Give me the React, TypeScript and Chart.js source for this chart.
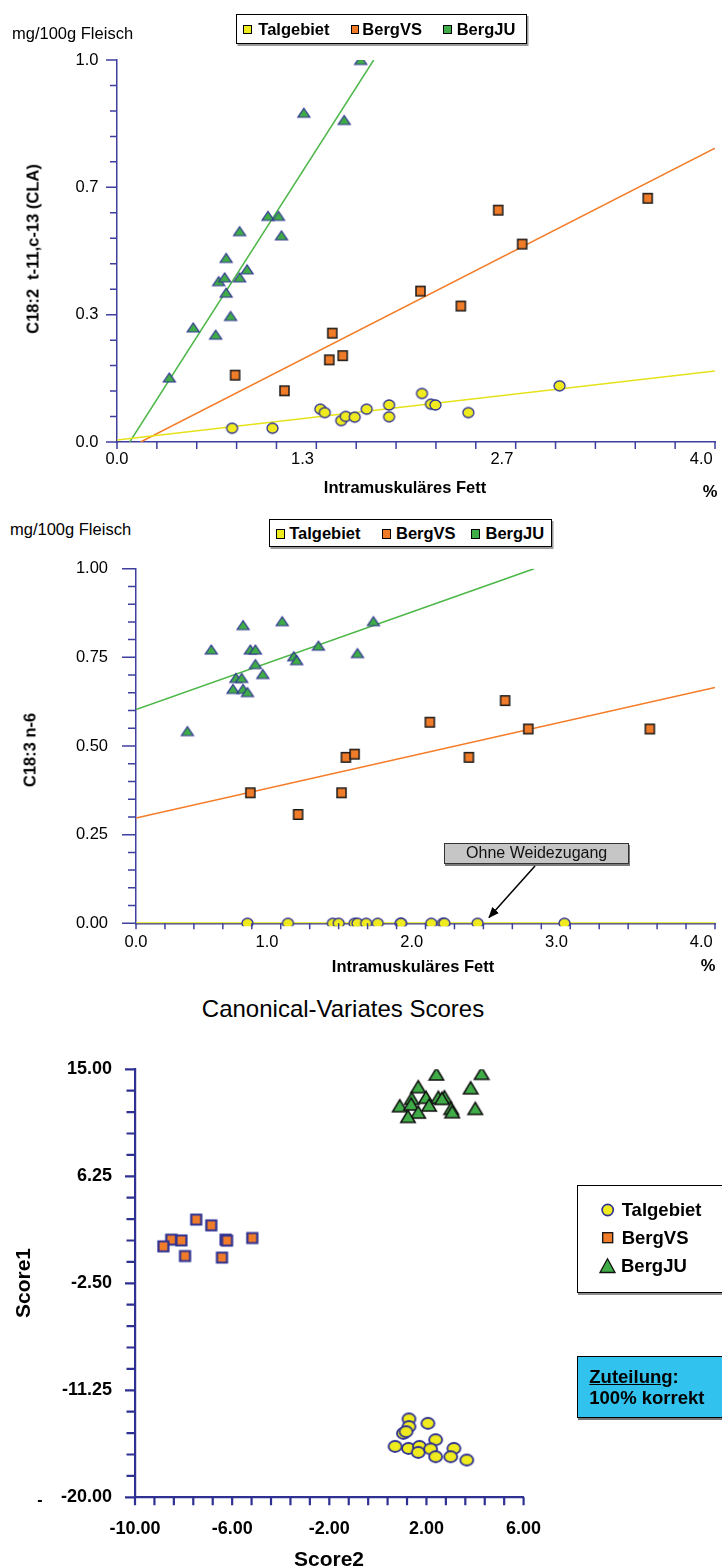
import React, { useEffect, useRef } from "react";
import { Chart, registerables } from "chart.js";

Chart.register(...registerables);

// ================= DATA =================
// Chart 1: C18:2 t-11,c-13 (CLA) vs intramuscular fat
const claTalgebietX = [0.77, 1.04, 1.36, 1.39, 1.5, 1.53, 1.59, 1.67, 1.82, 1.82, 2.04, 2.1, 2.13, 2.35, 2.96];
const claTalgebietY = [0.036, 0.036, 0.086, 0.077, 0.056, 0.067, 0.065, 0.086, 0.097, 0.066, 0.127, 0.099, 0.097, 0.077, 0.147];
const claBergVSX = [0.79, 1.12, 1.42, 1.44, 1.51, 2.03, 2.3, 2.55, 2.71, 3.55];
const claBergVSY = [0.175, 0.134, 0.215, 0.285, 0.226, 0.395, 0.356, 0.607, 0.518, 0.638];
const claBergJUX = [0.35, 0.51, 0.66, 0.68, 0.72, 0.73, 0.73, 0.76, 0.82, 0.82, 0.87, 1.01, 1.08, 1.1, 1.25, 1.52, 1.63];
const claBergJUY = [0.169, 0.3, 0.281, 0.421, 0.431, 0.482, 0.391, 0.33, 0.431, 0.552, 0.452, 0.592, 0.592, 0.541, 0.862, 0.843, 1.0];
const claTrendTalgebietX = [0, 4.0];
const claTrendTalgebietY = [0.005, 0.186];
const claTrendBergVSX = [0.158, 4.0];
const claTrendBergVSY = [0, 0.769];
const claTrendBergJUX = [0.085, 1.717];
const claTrendBergJUY = [0, 1.0];
const claXTickLabels = ["0.0", "1.3", "2.7", "4.0"];
const claYTickLabels = ["0.0", "0.3", "0.7", "1.0"];

// Chart 2: C18:3 n-6 vs intramuscular fat
const n6TalgebietX = [0.77, 1.05, 1.36, 1.4, 1.51, 1.53, 1.59, 1.67, 1.83, 1.83, 2.04, 2.12, 2.13, 2.36, 2.96];
const n6TalgebietY = [0, 0, 0, 0, 0, 0, 0, 0, 0, 0, 0, 0, 0, 0, 0];
const n6BergVSX = [0.79, 1.12, 1.42, 1.45, 1.51, 2.03, 2.3, 2.55, 2.71, 3.55];
const n6BergVSY = [0.368, 0.307, 0.368, 0.468, 0.477, 0.567, 0.468, 0.628, 0.548, 0.548];
const n6BergJUX = [0.355, 0.52, 0.67, 0.69, 0.73, 0.74, 0.74, 0.77, 0.79, 0.825, 0.825, 0.876, 1.01, 1.09, 1.11, 1.26, 1.53, 1.64];
const n6BergJUY = [0.542, 0.772, 0.661, 0.692, 0.692, 0.841, 0.661, 0.652, 0.772, 0.772, 0.731, 0.703, 0.852, 0.753, 0.742, 0.783, 0.762, 0.852];
const n6TrendTalgebietX = [0, 4.0];
const n6TrendTalgebietY = [0, 0];
const n6TrendBergVSX = [0, 4.0];
const n6TrendBergVSY = [0.297, 0.665];
const n6TrendBergJUX = [0, 2.75];
const n6TrendBergJUY = [0.603, 1.0];
const n6XTickLabels = ["0.0", "1.0", "2.0", "3.0", "4.0"];
const n6YTickLabels = ["0.00", "0.25", "0.50", "0.75", "1.00"];

// Chart 3: Canonical-Variates Scores
const cvTalgebietX = [1.28, 1.28, 2.06, 1.05, 1.16, 2.38, 0.71, 1.26, 1.71, 1.66, 2.17, 3.13, 2.38, 3.0, 3.66];
const cvTalgebietY = [-13.59, -14.22, -13.95, -14.77, -14.63, -15.29, -15.84, -16.0, -15.84, -16.33, -16.05, -16.0, -16.68, -16.68, -16.95];
const cvBergVSX = [-7.48, -6.86, -5.17, -8.51, -8.09, -6.27, -6.21, -8.83, -7.94, -6.42];
const cvBergVSY = [2.71, 2.24, 1.2, 1.07, 1.01, 1.07, 0.99, 0.52, -0.27, -0.4];
const cvBergJUX = [2.41, 4.27, 1.66, 3.82, 1.39, 1.98, 2.49, 2.74, 2.64, 0.9, 1.37, 2.11, 3.02, 3.06, 4.01, 1.66, 1.24];
const cvBergJUY = [14.62, 14.67, 13.58, 13.49, 12.62, 12.71, 12.71, 12.76, 12.62, 12.02, 12.16, 12.08, 11.8, 11.53, 11.8, 11.5, 11.15];
const cvXTickLabels = ["-10.00", "-6.00", "-2.00", "2.00", "6.00"];
const cvYTickLabels = ["-20.00", "-11.25", "-2.50", "6.25", "15.00"];

const seriesNames = ["Talgebiet", "BergVS", "BergJU"];

// ================= STYLE =================
const FONT = '"Liberation Sans", Arial, Helvetica, sans-serif';
const YELLOW = "#EFEB1E";
const ORANGE = "#F07C2A";
const GREEN = "#40AC48";
const MBLUE = "#2E3192";
const AXIS12 = "#3F3F9E";
const L_YELLOW = "#E6E21A";
const L_ORANGE = "#F47C26";
const L_GREEN = "#4DB748";

type Shape = "circle" | "square" | "triangle";

function marker(shape: Shape, w: number, h: number, fill: string, stroke: string, lw: number): HTMLCanvasElement {
  const c = document.createElement("canvas");
  const W = Math.ceil(w + lw + 2);
  const H = Math.ceil(h + lw + 2);
  c.width = W;
  c.height = H;
  const ctx = c.getContext("2d")!;
  ctx.fillStyle = fill;
  ctx.strokeStyle = stroke;
  ctx.lineWidth = lw;
  const cx = W / 2;
  const cy = H / 2;
  ctx.beginPath();
  if (shape === "circle") ctx.ellipse(cx, cy, w / 2, h / 2, 0, 0, Math.PI * 2);
  else if (shape === "square") ctx.rect(cx - w / 2, cy - h / 2, w, h);
  else {
    ctx.moveTo(cx, cy - h / 2);
    ctx.lineTo(cx + w / 2, cy + h / 2);
    ctx.lineTo(cx - w / 2, cy + h / 2);
    ctx.closePath();
  }
  ctx.fill();
  ctx.stroke();
  return c;
}

const pts = (xs: number[], ys: number[]) => xs.map((x, i) => ({ x, y: ys[i] }));

function pointSet(label: string, xs: number[], ys: number[], style: HTMLCanvasElement, extra: any = {}) {
  return {
    label,
    data: pts(xs, ys),
    pointStyle: style,
    pointRadius: 6,
    pointHoverRadius: 6,
    showLine: false,
    order: 0,
    ...extra,
  };
}

function lineSet(label: string, xs: number[], ys: number[], color: string, w: number) {
  return {
    label,
    data: pts(xs, ys),
    showLine: true,
    pointRadius: 0,
    pointHoverRadius: 0,
    borderColor: color,
    backgroundColor: color,
    borderWidth: w,
    fill: false,
    order: 1,
  };
}

type AxisSpec = {
  min: number;
  max: number;
  labels: string[];
  minor: number;
  majorLen: number;
  minorLen: number;
  pad: number;
  fit: number;
  trail?: string;
};

function buildScale(spec: AxisSpec, axis: "x" | "y", font: any, color: string, width: number) {
  const n = (spec.labels.length - 1) * spec.minor;
  return {
    type: "linear",
    position: axis === "x" ? "bottom" : "left",
    min: spec.min,
    max: spec.max,
    afterBuildTicks: (s: any) => {
      s.ticks = Array.from({ length: n + 1 }, (_, i) => ({ value: spec.min + ((spec.max - spec.min) * i) / n }));
    },
    afterFit: (s: any) => {
      if (axis === "x") s.height = spec.fit;
      else s.width = spec.fit;
      s.paddingLeft = 0;
      s.paddingRight = 0;
      s.paddingTop = 0;
      s.paddingBottom = 0;
    },
    grid: { display: false, drawTicks: false, drawOnChartArea: false },
    border: { display: true, color, width },
    ticks: {
      autoSkip: false,
      maxRotation: 0,
      minRotation: 0,
      padding: spec.pad,
      color: "#000",
      font,
      callback: (_v: any, i: number) =>
        i % spec.minor === 0 ? spec.labels[i / spec.minor] + (spec.trail && i > 0 ? spec.trail : "") : "",
    },
  };
}

function tickMarks(xs: AxisSpec, ys: AxisSpec, color: string, width: number) {
  return {
    id: "tickMarks",
    afterDraw(chart: any) {
      const { ctx, chartArea, scales } = chart;
      ctx.save();
      ctx.strokeStyle = color;
      ctx.lineWidth = width;
      ctx.beginPath();
      scales.x.ticks.forEach((t: any, i: number) => {
        const px = scales.x.getPixelForValue(t.value);
        const len = i % xs.minor === 0 ? xs.majorLen : xs.minorLen;
        ctx.moveTo(px, chartArea.bottom);
        ctx.lineTo(px, chartArea.bottom + len);
      });
      scales.y.ticks.forEach((t: any, i: number) => {
        const py = scales.y.getPixelForValue(t.value);
        const len = i % ys.minor === 0 ? ys.majorLen : ys.minorLen;
        ctx.moveTo(chartArea.left, py);
        ctx.lineTo(chartArea.left - len, py);
      });
      ctx.stroke();
      ctx.restore();
    },
  };
}

type PanelProps = {
  top: number;
  width: number;
  height: number;
  padding: { left: number; top: number; right: number; bottom: number };
  x: AxisSpec;
  y: AxisSpec;
  font: any;
  axisColor: string;
  axisWidth: number;
  buildDatasets: () => any[];
};

function ScatterPanel(p: PanelProps) {
  const ref = useRef<HTMLCanvasElement>(null);
  useEffect(() => {
    const canvas = ref.current!;
    const chart = new Chart(canvas, {
      type: "scatter",
      data: { datasets: p.buildDatasets() },
      options: {
        responsive: false,
        maintainAspectRatio: false,
        animation: false,
        events: [],
        layout: { padding: p.padding },
        plugins: { legend: { display: false }, tooltip: { enabled: false }, title: { display: false } },
        scales: {
          x: buildScale(p.x, "x", p.font, p.axisColor, p.axisWidth),
          y: buildScale(p.y, "y", p.font, p.axisColor, p.axisWidth),
        },
      } as any,
      plugins: [tickMarks(p.x, p.y, p.axisColor, p.axisWidth)],
    });
    return () => chart.destroy();
  }, []);
  return (
    <canvas
      ref={ref}
      width={p.width}
      height={p.height}
      style={{ position: "absolute", left: 0, top: p.top, width: p.width, height: p.height }}
    />
  );
}

function Txt(props: {
  x: number;
  y: number;
  size: number;
  bold?: boolean;
  align?: "left" | "center";
  rotate?: boolean;
  children: React.ReactNode;
  color?: string;
}) {
  const tx = props.align === "left" ? "0" : "-50%";
  return (
    <div
      style={{
        position: "absolute",
        left: props.x,
        top: props.y,
        transform: `translate(${tx},-50%)${props.rotate ? " rotate(-90deg)" : ""}`,
        fontFamily: FONT,
        fontSize: props.size,
        fontWeight: props.bold ? "bold" : "normal",
        whiteSpace: "pre",
        lineHeight: "normal",
        color: props.color || "#000",
      }}
    >
      {props.children}
    </div>
  );
}

function Box(props: { left: number; top: number; width: number; height: number; bg: string; border?: string; shadow?: string; children?: React.ReactNode }) {
  return (
    <div
      style={{
        position: "absolute",
        left: props.left,
        top: props.top,
        width: props.width,
        height: props.height,
        background: props.bg,
        border: props.border || "1px solid #000",
        boxShadow: props.shadow || "2px 2px 0 #8c8c8c",
        boxSizing: "border-box",
      }}
    >
      {props.children}
    </div>
  );
}

function Swatch(props: { x: number; y: number; w: number; h: number; color: string }) {
  return (
    <div
      style={{
        position: "absolute",
        left: props.x,
        top: props.y - props.h / 2,
        width: props.w,
        height: props.h,
        background: props.color,
        border: "1.3px solid #000",
        boxSizing: "border-box",
      }}
    />
  );
}

const seriesColors = [YELLOW, ORANGE, GREEN];

function TopLegend(props: { box: { left: number; top: number; width: number; height: number }; sw: number[]; tx: number[]; cy: number; swW: number; swH: number }) {
  return (
    <>
      <Box left={props.box.left} top={props.box.top} width={props.box.width} height={props.box.height} bg="#fff" shadow="1.5px 2px 0 #9a9a9a" />
      {seriesNames.map((n, i) => (
        <React.Fragment key={n}>
          <Swatch x={props.sw[i]} y={props.cy + 0.8} w={props.swW} h={props.swH} color={seriesColors[i]} />
          <Txt x={props.tx[i]} y={props.cy} size={16.5} bold align="left">
            {n}
          </Txt>
        </React.Fragment>
      ))}
    </>
  );
}

const tickFont12 = { family: FONT, size: 16.5, weight: "normal" };
const tickFont3 = { family: FONT, size: 18, weight: "bold" };

export default function App() {
  return (
    <div
      style={{
        position: "absolute",
        left: 0,
        top: 0,
        width: 722,
        height: 1566,
        overflow: "hidden",
        background: "#fff",
        fontFamily: FONT,
      }}
    >
      {/* ============ Chart 1 ============ */}
      <ScatterPanel
        top={40}
        width={722}
        height={440}
        padding={{ left: 57, top: 20, right: 1, bottom: 8 }}
        x={{ min: 0, max: 4, labels: claXTickLabels, minor: 5, majorLen: 7, minorLen: 7, pad: 8, fit: 30, trail: "      " }}
        y={{ min: 0, max: 1, labels: claYTickLabels, minor: 5, majorLen: 11, minorLen: 7, pad: 18.5, fit: 60 }}
        font={tickFont12}
        axisColor={AXIS12}
        axisWidth={1.5}
        buildDatasets={() => {
          const circ = marker("circle", 11, 10, YELLOW, MBLUE, 1.3);
          const sq = marker("square", 9, 9.5, ORANGE, "#1a1a1a", 1.5);
          const tri = marker("triangle", 12, 9, GREEN, MBLUE, 1.2);
          return [
            pointSet("Talgebiet", claTalgebietX, claTalgebietY, circ),
            pointSet("BergVS", claBergVSX, claBergVSY, sq),
            pointSet("BergJU", claBergJUX, claBergJUY, tri),
            lineSet("Talgebiet Trend", claTrendTalgebietX, claTrendTalgebietY, L_YELLOW, 1.5),
            lineSet("BergVS Trend", claTrendBergVSX, claTrendBergVSY, L_ORANGE, 1.5),
            lineSet("BergJU Trend", claTrendBergJUX, claTrendBergJUY, L_GREEN, 1.5),
          ];
        }}
      />
      <Txt x={12} y={32.5} size={16.5} align="left">
        mg/100g Fleisch
      </Txt>
      <TopLegend
        box={{ left: 236, top: 14, width: 291, height: 29.5 }}
        sw={[243.3, 350.7, 443.3]}
        tx={[258.3, 362.3, 456.7]}
        cy={28.7}
        swW={8.5}
        swH={9.5}
      />
      <Txt x={33} y={249} size={16.5} bold rotate>
        {"C18:2  t-11,c-13 (CLA)"}
      </Txt>
      <Txt x={405} y={487} size={16.5} bold>
        Intramuskuläres Fett
      </Txt>
      <Txt x={710} y={491} size={16.5} bold>
        %
      </Txt>

      {/* ============ Chart 2 ============ */}
      <ScatterPanel
        top={550}
        width={722}
        height={420}
        padding={{ left: 66, top: 18.7, right: 2, bottom: 6.7 }}
        x={{ min: 0, max: 4, labels: n6XTickLabels, minor: 5, majorLen: 6, minorLen: 6, pad: 9.3, fit: 40, trail: "      " }}
        y={{ min: 0, max: 1, labels: n6YTickLabels, minor: 5, majorLen: 14, minorLen: 8, pad: 28, fit: 70 }}
        font={tickFont12}
        axisColor={AXIS12}
        axisWidth={1.5}
        buildDatasets={() => {
          const circ = marker("circle", 11, 10, YELLOW, MBLUE, 1.3);
          const sq = marker("square", 9, 9.5, ORANGE, "#1a1a1a", 1.5);
          const tri = marker("triangle", 12, 9, GREEN, MBLUE, 1.2);
          return [
            pointSet("Talgebiet", n6TalgebietX, n6TalgebietY, circ, { clip: { left: false, top: false, right: false, bottom: 3 } }),
            pointSet("BergVS", n6BergVSX, n6BergVSY, sq),
            pointSet("BergJU", n6BergJUX, n6BergJUY, tri),
            lineSet("Talgebiet Trend", n6TrendTalgebietX, n6TrendTalgebietY, L_YELLOW, 2),
            lineSet("BergVS Trend", n6TrendBergVSX, n6TrendBergVSY, L_ORANGE, 1.5),
            lineSet("BergJU Trend", n6TrendBergJUX, n6TrendBergJUY, L_GREEN, 1.5),
          ];
        }}
      />
      <Txt x={10} y={529} size={16.5} align="left">
        mg/100g Fleisch
      </Txt>
      <TopLegend
        box={{ left: 269.4, top: 519.3, width: 282.3, height: 28 }}
        sw={[276.3, 382.2, 471]}
        tx={[289.2, 396, 485.5]}
        cy={533.3}
        swW={8.5}
        swH={10}
      />
      <Txt x={30} y={750} size={16.5} bold rotate>
        C18:3 n-6
      </Txt>
      <Txt x={413} y={966} size={16.5} bold>
        Intramuskuläres Fett
      </Txt>
      <Txt x={708} y={965} size={16.5} bold>
        %
      </Txt>
      <Box left={444} top={842.7} width={185.3} height={21.5} bg="#C6C6C6" border="1px solid #333" shadow="1px 2px 0 #7a7a7a">
        <div
          style={{
            position: "absolute",
            left: 0,
            top: 0,
            width: "100%",
            height: "100%",
            display: "flex",
            alignItems: "center",
            justifyContent: "center",
            fontFamily: FONT,
            fontSize: 16,
            color: "#111",
          }}
        >
          Ohne Weidezugang
        </div>
      </Box>

      {/* ============ Chart 3 ============ */}
      <Txt x={343} y={1008.5} size={24}>
        Canonical-Variates Scores
      </Txt>
      <ScatterPanel
        top={1040}
        width={722}
        height={526}
        padding={{ left: 55, top: 29.3, right: 198.4, bottom: 8.7 }}
        x={{ min: -10, max: 6, labels: cvXTickLabels, minor: 5, majorLen: 8, minorLen: 8, pad: 20.6, fit: 60 }}
        y={{ min: -20, max: 15, labels: cvYTickLabels, minor: 5, majorLen: 10, minorLen: 8.5, pad: 23, fit: 80 }}
        font={tickFont3}
        axisColor={MBLUE}
        axisWidth={2.2}
        buildDatasets={() => {
          const circ = marker("circle", 13, 11, YELLOW, MBLUE, 1.8);
          const sq = marker("square", 10, 10, ORANGE, MBLUE, 2.2);
          const tri = marker("triangle", 14.5, 12, GREEN, "#111", 1.5);
          return [
            pointSet("Talgebiet", cvTalgebietX, cvTalgebietY, circ),
            pointSet("BergVS", cvBergVSX, cvBergVSY, sq),
            pointSet("BergJU", cvBergJUX, cvBergJUY, tri),
          ];
        }}
      />
      <Txt x={23} y={1283} size={21} bold rotate>
        Score1
      </Txt>
      <Txt x={329} y={1559} size={21} bold>
        Score2
      </Txt>
      <Txt x={40} y={1500} size={16} bold>
        -
      </Txt>

      {/* legend chart 3 */}
      <Box left={576.7} top={1185} width={170} height={108} bg="#fff" border="1.3px solid #000" shadow="1px 2px 0 #8c8c8c" />
      <svg width={722} height={1566} style={{ position: "absolute", left: 0, top: 0, pointerEvents: "none" }}>
        <ellipse cx={607.7} cy={1210} rx={5.6} ry={5.6} fill={YELLOW} stroke={MBLUE} strokeWidth={1.6} />
        <rect x={602.7} y={1232.7} width={10} height={10} fill={ORANGE} stroke="#111" strokeWidth={1.3} />
        <polygon points="607.5,1258.8 615,1272.5 600,1272.5" fill={GREEN} stroke="#111" strokeWidth={1.3} />
        <defs>
          <marker id="arrowHead" markerWidth="11" markerHeight="9" refX="10" refY="4.5" orient="auto" markerUnits="userSpaceOnUse">
            <path d="M0,0 L11,4.5 L0,9 z" fill="#000" />
          </marker>
        </defs>
        <line x1={535} y1={866} x2={489} y2={917.5} stroke="#000" strokeWidth={1.5} markerEnd="url(#arrowHead)" />
      </svg>
      <Txt x={621.7} y={1210} size={18.5} bold align="left">
        Talgebiet
      </Txt>
      <Txt x={621.7} y={1237.8} size={18.5} bold align="left">
        BergVS
      </Txt>
      <Txt x={621} y={1266} size={18.5} bold align="left">
        BergJU
      </Txt>

      {/* info box */}
      <Box left={576.7} top={1355.7} width={170} height={62} bg="#31C3EE" border="1.5px solid #000" shadow="1px 2px 0 #777" />
      <Txt x={589.3} y={1376.7} size={18.5} bold align="left">
        <span style={{ textDecoration: "underline" }}>Zuteilung</span>:
      </Txt>
      <Txt x={589.3} y={1398} size={18.5} bold align="left">
        100% korrekt
      </Txt>
    </div>
  );
}
